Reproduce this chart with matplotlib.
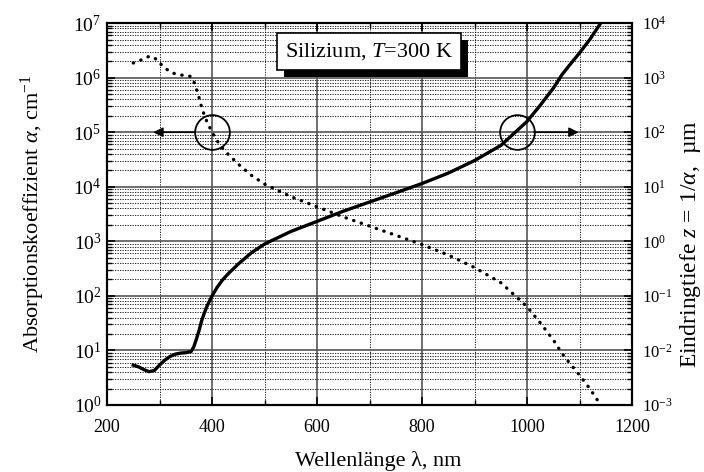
import numpy as np
import matplotlib
matplotlib.use('Agg')
import matplotlib.pyplot as plt
import matplotlib.patheffects as pe
from matplotlib.ticker import LogLocator, NullFormatter, FixedLocator

plt.rcParams['font.family'] = ['Liberation Serif', 'DejaVu Serif']
plt.rcParams['mathtext.fontset'] = 'custom'
plt.rcParams['mathtext.rm'] = 'Liberation Serif'
plt.rcParams['mathtext.it'] = 'Liberation Serif:italic'

# Wellenlaenge (nm) und Absorptionskoeffizient (cm^-1)
wellenlaenge = [250, 260, 270, 280, 290, 300, 310, 320, 330, 340, 350, 360,
                365, 370, 375, 380, 385, 390, 400, 410, 420, 430, 450, 475,
                500, 550, 600, 650, 700, 750, 800, 850, 900, 950, 980, 1000,
                1025, 1050, 1066, 1080, 1100, 1120, 1140]
alpha = [1.86e6, 2.0e6, 2.24e6, 2.45e6, 2.34e6, 1.86e6, 1.51e6, 1.29e6,
         1.17e6, 1.12e6, 1.10e6, 1.05e6, 8.7e5, 6.3e5, 4.4e5, 2.9e5, 2.1e5,
         1.58e5, 1.0e5, 6.9e4, 5.1e4, 4.0e4, 2.6e4, 1.62e4, 1.12e4, 6.6e3,
         4.3e3, 2.8e3, 1.9e3, 1.29e3, 870, 560, 330, 174, 95, 63, 32, 15.5,
         8.9, 6.0, 3.5, 1.95, 1.0]

lam = np.array(wellenlaenge, dtype=float)
a = np.array(alpha)
z = 1e4 / a   # Eindringtiefe in um

fig = plt.figure(figsize=(7.04, 4.72), dpi=100)
ax = fig.add_axes([0.152, 0.142, 0.746, 0.809])
ax2 = ax.twinx()

ax.set_xlim(200, 1200)
ax.set_yscale('log')
ax.set_ylim(1e0, 1e7)
ax2.set_yscale('log')
ax2.set_ylim(1e-3, 1e4)

# Gitter
ax.set_xticks([200, 400, 600, 800, 1000, 1200])
ax.xaxis.set_minor_locator(FixedLocator([300, 500, 700, 900, 1100]))
ax.yaxis.set_major_locator(LogLocator(base=10, numticks=10))
ax.yaxis.set_minor_locator(LogLocator(base=10, subs=np.arange(2, 10), numticks=12))
ax.yaxis.set_minor_formatter(NullFormatter())
ax2.yaxis.set_major_locator(LogLocator(base=10, numticks=10))
ax2.yaxis.set_minor_locator(LogLocator(base=10, subs=np.arange(2, 10), numticks=12))
ax2.yaxis.set_minor_formatter(NullFormatter())

ax.grid(which='major', color='#555555', linestyle='-', linewidth=1.2)
ax.grid(which='minor', color='black', linestyle=(0, (1.5, 1.5)), linewidth=0.6)

links = [r'$\mathregular{10^{%d}}$' % i for i in range(0, 8)]
rechts = [r'$\mathregular{10^{%d}}$' % i for i in range(-3, 5)]
ax.set_yticks([10.0**i for i in range(0, 8)])
ax.set_yticklabels(links)
ax2.set_yticks([10.0**i for i in range(-3, 5)])
ax2.set_yticklabels(rechts)

for axx in (ax, ax2):
    axx.tick_params(which='major', direction='in', length=6, width=1.2,
                    top=True)
    axx.tick_params(which='minor', direction='in', length=3.5, width=1.0, top=True)
    for s in axx.spines.values():
        s.set_linewidth(1.5)
ax.tick_params(axis='x', which='major', labelsize=13, pad=10)
ax.tick_params(axis='y', which='major', labelsize=14, pad=4)
ax2.tick_params(axis='y', which='major', labelsize=12, pad=7)

# Kurven
ax.plot(lam, a, color='black', linestyle=(0, (0.1, 2.3)), linewidth=2.4,
        dash_capstyle='round', zorder=5)
ax2.plot(lam, z, color='black', linewidth=2.4, zorder=5)

# Kreise und Pfeile
ax.plot([400], [1e5], 'o', markersize=25, markerfacecolor='none',
        markeredgecolor='black', markeredgewidth=1.3, zorder=6)
ax.plot([980], [1e5], 'o', markersize=25, markerfacecolor='none',
        markeredgecolor='black', markeredgewidth=1.3, zorder=6)
ax.annotate('', xy=(288, 1e5), xytext=(366, 1e5),
            arrowprops=dict(arrowstyle='-|>', color='black', lw=1.2,
                            mutation_scale=14, shrinkA=0, shrinkB=0), zorder=6)
ax.annotate('', xy=(1098, 1e5), xytext=(1013, 1e5),
            arrowprops=dict(arrowstyle='-|>', color='black', lw=1.2,
                            mutation_scale=14, shrinkA=0, shrinkB=0), zorder=6)

# Textfeld mit Schatten
t = ax.text(699, 10**6.48, r'Silizium, $\mathit{T}$=300 K', fontsize=16,
            ha='center', va='center', zorder=8,
            bbox=dict(boxstyle='square,pad=0.35', facecolor='white', edgecolor='black', lw=1.2))
t.get_bbox_patch().set_path_effects([
    pe.SimplePatchShadow(offset=(5, -5), shadow_rgbFace='black', alpha=1.0),
    pe.Normal()])

ax.set_xlabel('Wellenlänge λ, nm', fontsize=16)
ax.set_ylabel(r'Absorptionskoeffizient $\mathit{\alpha}$, cm$^{\mathregular{-1}}$', fontsize=16)
ax2.set_ylabel(r'Eindringtiefe $\mathit{z}\,=\,\mathit{1/\alpha}$,  µm', fontsize=17)
ax.xaxis.set_label_coords(0.516, -0.12)
ax.yaxis.set_label_coords(-0.115, 0.5)
ax2.yaxis.set_label_coords(1.088, 0.42)

fig.savefig('out.png', dpi=100)
